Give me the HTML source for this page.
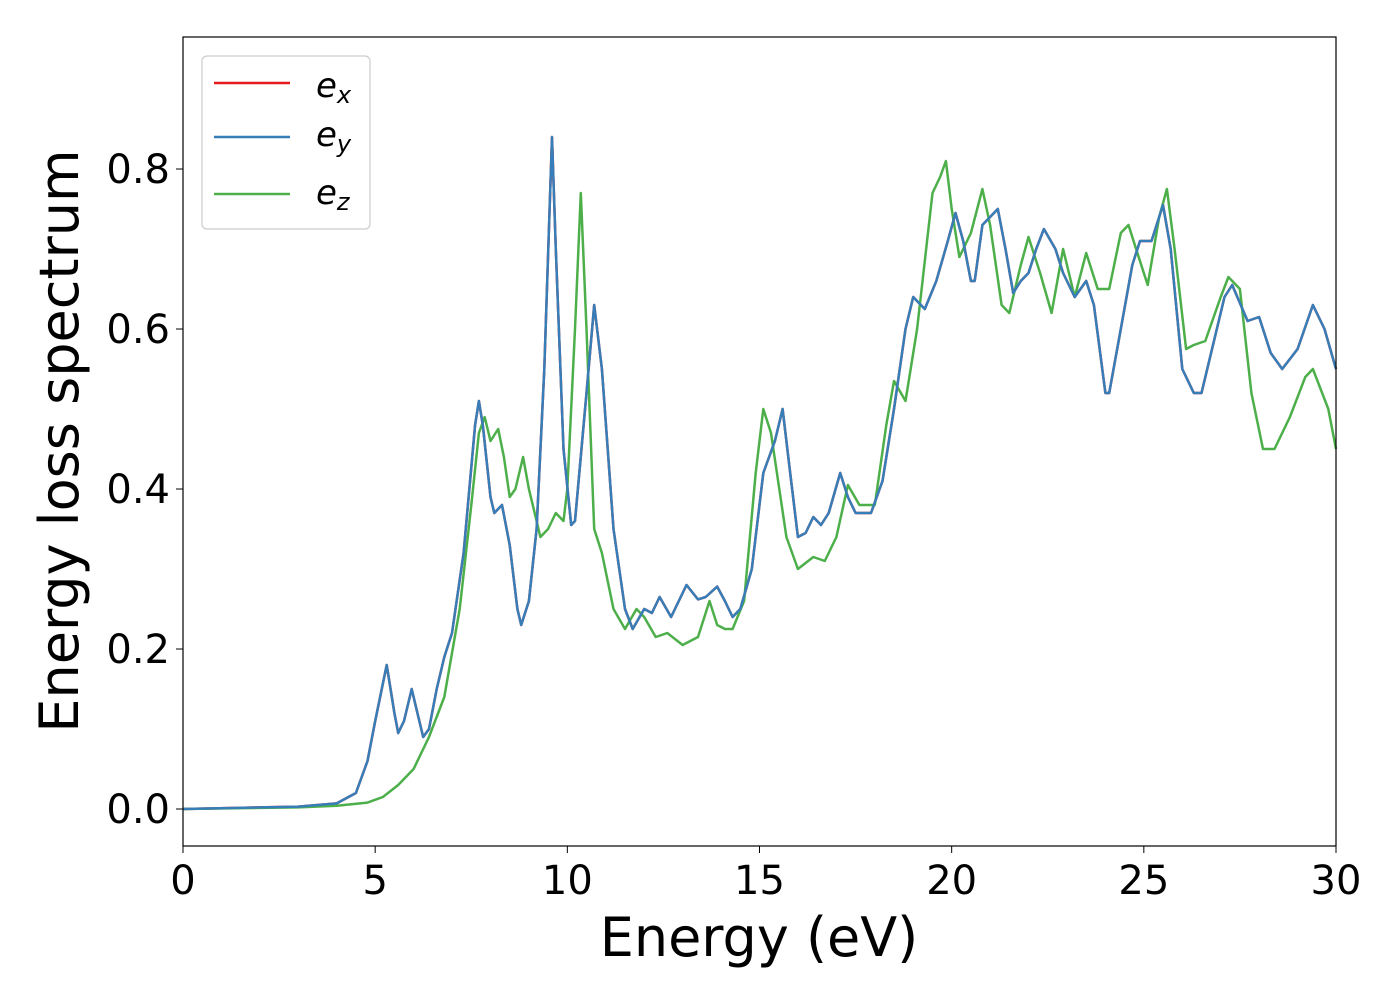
<!DOCTYPE html>
<html><head><meta charset="utf-8"><style>
body{margin:0;background:#fff;}
svg text{font-family:"DejaVu Sans","Liberation Sans",sans-serif;}
</style></head><body>
<svg id="chart" width="1400" height="1000" xmlns="http://www.w3.org/2000/svg">
<rect x="0" y="0" width="1400" height="1000" fill="#fff"/>
<g id="ticks"></g>
<g id="series"></g>
<rect x="183" y="37" width="1153" height="809" fill="none" stroke="#000" stroke-width="1.2"/>
<text x="759" y="956" font-size="54" text-anchor="middle">Energy (eV)</text>
<text transform="translate(78,441) rotate(-90)" font-size="54" text-anchor="middle">Energy loss spectrum</text>
<g>
<rect x="202" y="56" width="168" height="173" rx="5" fill="#fff" stroke="#ccc" stroke-width="1.2"/>
<line x1="214" y1="83" x2="290" y2="83" stroke="#e41a1c" stroke-width="2.5"/>
<text x="316" y="97" font-size="34" font-style="italic">e<tspan font-size="24" dy="6">x</tspan></text>
<line x1="214" y1="137" x2="290" y2="137" stroke="#377eb8" stroke-width="2.5"/>
<text x="316" y="146" font-size="34" font-style="italic">e<tspan font-size="24" dy="6">y</tspan></text>
<line x1="214" y1="194" x2="290" y2="194" stroke="#4daf4a" stroke-width="2.5"/>
<text x="316" y="204" font-size="34" font-style="italic">e<tspan font-size="24" dy="6">z</tspan></text>
</g>
</svg>
<script>
const xTicks=[0,5,10,15,20,25,30];
const yTicks=[0.0,0.2,0.4,0.6,0.8];
const yTickLabels=["0.0","0.2","0.4","0.6","0.8"];
const energyBlue=[0,2,3,4,4.5,4.8,5.0,5.3,5.5,5.6,5.75,5.95,6.1,6.25,6.4,6.6,6.8,7.0,7.3,7.6,7.7,7.8,8.0,8.1,8.3,8.5,8.7,8.8,9.0,9.2,9.4,9.6,9.7,9.9,10.1,10.2,10.5,10.7,10.9,11.2,11.5,11.7,12.0,12.2,12.4,12.7,13.1,13.4,13.6,13.9,14.1,14.3,14.5,14.8,15.1,15.4,15.6,15.8,16.0,16.2,16.4,16.6,16.8,17.1,17.3,17.5,17.9,18.2,18.5,18.8,19.0,19.3,19.6,19.9,20.1,20.3,20.5,20.6,20.8,21.0,21.2,21.4,21.6,21.8,22.0,22.2,22.4,22.7,22.9,23.2,23.5,23.7,24.0,24.1,24.4,24.7,24.9,25.2,25.5,25.7,26.0,26.3,26.5,26.8,27.1,27.3,27.7,28.0,28.3,28.6,29.0,29.4,29.7,30];
const lossXY=[0,0.002,0.003,0.007,0.02,0.06,0.11,0.18,0.12,0.095,0.11,0.15,0.12,0.09,0.1,0.15,0.19,0.22,0.32,0.48,0.51,0.48,0.39,0.37,0.38,0.33,0.25,0.23,0.26,0.35,0.55,0.84,0.7,0.45,0.355,0.36,0.52,0.63,0.55,0.35,0.25,0.225,0.25,0.245,0.265,0.24,0.28,0.262,0.265,0.278,0.26,0.24,0.25,0.3,0.42,0.46,0.5,0.42,0.34,0.345,0.365,0.355,0.37,0.42,0.39,0.37,0.37,0.41,0.5,0.6,0.64,0.625,0.66,0.71,0.745,0.71,0.66,0.66,0.73,0.74,0.75,0.7,0.645,0.66,0.67,0.7,0.725,0.7,0.67,0.64,0.66,0.63,0.52,0.52,0.6,0.68,0.71,0.71,0.755,0.7,0.55,0.52,0.52,0.58,0.64,0.655,0.61,0.615,0.57,0.55,0.575,0.63,0.6,0.55];
const energyGreen=[0,3,4,4.8,5.2,5.6,6.0,6.4,6.8,7.2,7.5,7.7,7.85,8.0,8.2,8.35,8.5,8.65,8.85,9.0,9.3,9.5,9.7,9.9,10.0,10.2,10.35,10.5,10.7,10.9,11.2,11.5,11.8,12.0,12.3,12.6,13.0,13.4,13.7,13.9,14.1,14.3,14.6,14.9,15.1,15.3,15.7,16.0,16.4,16.7,17.0,17.3,17.6,18.0,18.3,18.5,18.8,19.1,19.5,19.7,19.85,20.0,20.2,20.5,20.8,21.0,21.3,21.5,21.8,22.0,22.3,22.6,22.9,23.2,23.5,23.8,24.1,24.4,24.6,24.8,25.1,25.4,25.6,25.8,26.1,26.3,26.6,27.0,27.2,27.5,27.8,28.1,28.4,28.8,29.2,29.4,29.8,30];
const lossZ=[0,0.002,0.004,0.008,0.015,0.03,0.05,0.09,0.14,0.25,0.38,0.47,0.49,0.46,0.475,0.44,0.39,0.4,0.44,0.4,0.34,0.35,0.37,0.36,0.4,0.6,0.77,0.6,0.35,0.32,0.25,0.225,0.25,0.24,0.215,0.22,0.205,0.215,0.26,0.23,0.225,0.225,0.26,0.42,0.5,0.47,0.34,0.3,0.315,0.31,0.34,0.405,0.38,0.38,0.48,0.535,0.51,0.6,0.77,0.79,0.81,0.75,0.69,0.72,0.775,0.73,0.63,0.62,0.68,0.715,0.67,0.62,0.7,0.64,0.695,0.65,0.65,0.72,0.73,0.7,0.655,0.74,0.775,0.7,0.575,0.58,0.585,0.64,0.665,0.65,0.52,0.45,0.45,0.49,0.54,0.55,0.5,0.45];

const NS="http://www.w3.org/2000/svg";
const X0=183,X1=1336,Y0val=809,YSCALE=800;
function xs(v){return X0+(v-0)*(X1-X0)/30;}
function ys(v){return Y0val-v*YSCALE;}
const tg=document.getElementById('ticks');
xTicks.forEach(t=>{
  const l=document.createElementNS(NS,'line');
  
  
  l.setAttribute('x1',xs(t));l.setAttribute('x2',xs(t));l.setAttribute('y1',846);l.setAttribute('y2',853);l.setAttribute('stroke','#000');
  tg.appendChild(l);
  const tx=document.createElementNS(NS,'text');
  
  
  tx.setAttribute('x',xs(t));tx.setAttribute('y',894);tx.setAttribute('font-size','40');tx.setAttribute('text-anchor','middle');
  tx.textContent=t;tg.appendChild(tx);
});
yTicks.forEach((t,i)=>{
  const l=document.createElementNS(NS,'line');
  
  
  l.setAttribute('x1',176);l.setAttribute('x2',183);l.setAttribute('y1',ys(t));l.setAttribute('y2',ys(t));l.setAttribute('stroke','#000');
  tg.appendChild(l);
  const tx=document.createElementNS(NS,'text');
  
  
  tx.setAttribute('x',170);tx.setAttribute('y',ys(t)+14);tx.setAttribute('font-size','40');tx.setAttribute('text-anchor','end');
  tx.textContent=yTickLabels[i];tg.appendChild(tx);
});
const sg=document.getElementById('series');
function draw(xa,ya,color,name){
  const p=document.createElementNS(NS,'polyline');
  
  
  p.setAttribute('points',xa.map((x,i)=>xs(x).toFixed(1)+','+ys(ya[i]).toFixed(1)).join(' '));
  p.setAttribute('fill','none');p.setAttribute('stroke',color);p.setAttribute('stroke-width','2.5');p.setAttribute('stroke-linejoin','round');
  sg.appendChild(p);
}
draw(energyBlue,lossXY,'#e41a1c','series-ex');
draw(energyGreen,lossZ,'#4daf4a','series-ez');
draw(energyBlue,lossXY,'#377eb8','series-ey');
</script>
</body></html>
